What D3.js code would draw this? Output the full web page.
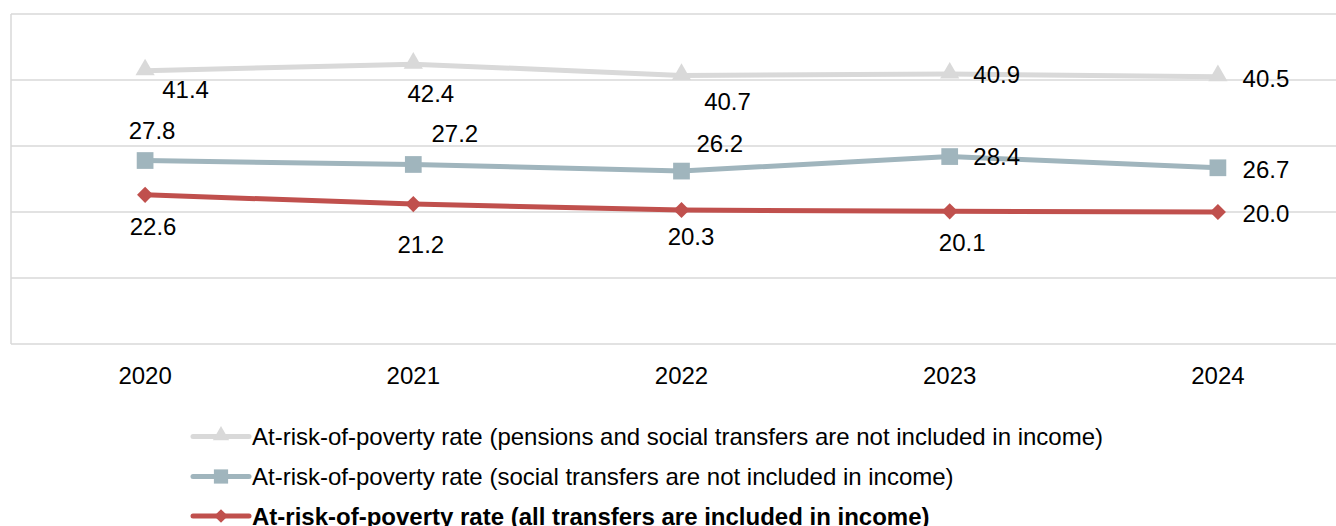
<!DOCTYPE html>
<html>
<head>
<meta charset="utf-8">
<script src="https://cdn.jsdelivr.net/npm/d3@7"></script>
<style>
  html, body { margin: 0; padding: 0; background: #fff; overflow: hidden; }
  svg { display: block; font-family: "Liberation Sans", Arial, sans-serif; }
</style>
</head>
<body>
<svg id="chart" width="1336" height="526"></svg>
<script>
// ---- Data ----
const years = ["2020", "2021", "2022", "2023", "2024"];
const pensionsNotIncluded = [41.4, 42.4, 40.7, 40.9, 40.5];
const socialNotIncluded = [27.8, 27.2, 26.2, 28.4, 26.7];
const allIncluded = [22.6, 21.2, 20.3, 20.1, 20.0];
const seriesNames = [
  "At-risk-of-poverty rate (pensions and social transfers are not included in income)",
  "At-risk-of-poverty rate (social transfers are not included in income)",
  "At-risk-of-poverty rate (all transfers are included in income)"
];
const yTicks = [0, 10, 20, 30, 40, 50];

// ---- Label placement (pixel offsets from each point) ----
const labelOffsets = [
  [[40.5, 27.5], [17.5, 37.5], [46, 34.6], [47, 9.2], [48, 10.6]],
  [[7, -21.5], [41.5, -22.8], [38.3, -19.4], [47, 8.4], [48, 10]],
  [[8, 40], [7.5, 49], [9.5, 35], [12.5, 40], [48, 9.7]]
];

const FONT = 24;

const series = [
  { name: seriesNames[0], values: pensionsNotIncluded, color: "#d9d9d9", marker: "triangle", bold: false },
  { name: seriesNames[1], values: socialNotIncluded, color: "#a0b5bd", marker: "square", bold: false },
  { name: seriesNames[2], values: allIncluded, color: "#c0504d", marker: "diamond", bold: true }
];

function markerPath(type, scale) {
  if (type === "triangle") return d3.symbol().type(d3.symbolTriangle).size(160 * scale * scale)();
  if (type === "square") return d3.symbol().type(d3.symbolSquare).size(280 * scale * scale)();
  return d3.symbol().type(d3.symbolSquare).size(130 * scale * scale)();
}
function markerTransform(type, px, py) {
  if (type === "diamond") return `translate(${px},${py}) rotate(45)`;
  if (type === "triangle") return `translate(${px},${py - 1})`;
  return `translate(${px},${py})`;
}

const svg = d3.select("#chart");
const plot = { left: 11, right: 1352, top: 14, bottom: 344 };

const x = d3.scaleBand().domain(years).range([plot.left, plot.right]).paddingInner(0).paddingOuter(0);
const xc = d => x(d) + x.bandwidth() / 2;
const y = d3.scaleLinear().domain([0, 50]).range([plot.bottom, plot.top]);

// gridlines
svg.append("g").selectAll("line").data(yTicks).join("line")
  .attr("x1", plot.left).attr("x2", plot.right)
  .attr("y1", d => y(d)).attr("y2", d => y(d))
  .attr("stroke", "#d9d9d9").attr("stroke-width", 1.5);
// left border
svg.append("line")
  .attr("x1", plot.left).attr("x2", plot.left)
  .attr("y1", y(50)).attr("y2", y(0))
  .attr("stroke", "#d9d9d9").attr("stroke-width", 1.5);

// x axis labels
const xAxis = d3.axisBottom(x).tickSize(0).tickPadding(0);
const gx = svg.append("g").attr("transform", `translate(0,${plot.bottom})`).call(xAxis);
gx.select(".domain").remove();
gx.selectAll("text")
  .attr("y", 39.5).attr("dy", null)
  .attr("font-size", FONT).attr("font-family", "Liberation Sans, Arial, sans-serif")
  .attr("fill", "#000");

// lines
const line = d3.line().x((d, i) => xc(years[i])).y(d => y(d));
series.forEach((s, si) => {
  const g = svg.append("g");
  g.append("path").datum(s.values)
    .attr("d", line).attr("fill", "none")
    .attr("stroke", s.color).attr("stroke-width", 5);
  g.selectAll("path.m").data(s.values).join("path").attr("class", "m")
    .attr("d", markerPath(s.marker, 1))
    .attr("transform", (d, i) => markerTransform(s.marker, xc(years[i]), y(d)))
    .attr("fill", s.color);
});

// data labels
series.forEach((s, si) => {
  svg.append("g").selectAll("text").data(s.values).join("text")
    .attr("x", (d, i) => xc(years[i]) + labelOffsets[si][i][0])
    .attr("y", (d, i) => y(d) + labelOffsets[si][i][1])
    .attr("text-anchor", "middle")
    .attr("font-size", FONT).attr("fill", "#000")
    .text(d => d.toFixed(1));
});

// legend
const legendY = [436.5, 476.5, 516];
const lg = svg.append("g");
series.forEach((s, si) => {
  const g = lg.append("g").attr("transform", `translate(0,${legendY[si]})`);
  g.append("line").attr("x1", 193).attr("x2", 249).attr("y1", 0).attr("y2", 0)
    .attr("stroke", s.color).attr("stroke-width", 5).attr("stroke-linecap", "round");
  g.append("path")
    .attr("d", markerPath(s.marker, 0.85))
    .attr("transform", markerTransform(s.marker, 221, 0))
    .attr("fill", s.color);
  g.append("text").attr("x", 252).attr("y", 8.5)
    .attr("font-size", FONT).attr("font-weight", s.bold ? "bold" : "normal")
    .attr("fill", "#000").text(s.name);
});
</script>
</body>
</html>
